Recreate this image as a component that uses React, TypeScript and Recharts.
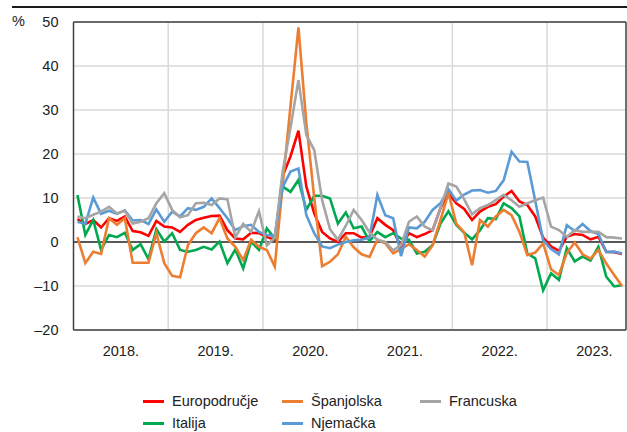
import { LineChart, Line, XAxis, YAxis, CartesianGrid, ReferenceLine } from 'recharts';

// monthly values, Jan 2018 – Oct 2023, % year-on-year
const europodrucje = [
  5.2, 4.1, 5.0, 3.3, 5.4, 4.8, 5.8, 2.5, 2.2, 1.4, 4.8, 3.5,
  3.3, 2.3, 3.9, 5.0, 5.5, 5.9, 6.0, 2.7, 0.8, 0.6, 2.1, 2.0,
  1.1, 0.5, 15.0, 19.5, 25.3, 12.6, 6.5, 2.3, 0.8, 0.0, 2.0, 2.0,
  1.0, 1.2, 5.4, 3.9, 2.7, -1.1, 2.0, 1.1, 1.8, 2.7, 7.7, 11.1,
  8.8, 7.5, 5.0, 6.9, 8.0, 8.6, 10.3, 11.6, 9.2, 8.4, 5.8, 1.0,
  -1.0, -2.0, 1.2, 1.8, 1.6, 0.6, 1.2, -2.2, -2.3, -2.7,
];
const spanjolska = [
  1.1, -4.8, -2.2, -2.7, 5.4, 3.9, 5.4, -4.7, -4.7, -4.7, 2.0, -4.8,
  -7.7, -8.0, -0.7, 2.0, 3.3, 2.0, 5.4, 0.8, -1.1, -4.1, 0.5, -1.1,
  -1.8, -5.6, 13.0, 31.0, 48.8, 27.0, 10.0, -5.5, -4.5, -2.8, 1.2, -1.2,
  -2.8, -3.4, 0.5, -0.3, -2.6, -1.6, -0.5, -1.8, -3.3, -0.7, 5.0, 11.1,
  4.2, 2.2, -5.3, 5.0, 3.5, 5.8, 7.3, 6.1, 2.3, -3.0, -2.4, -0.3,
  -6.2, -7.5, -2.5, -0.1, -2.8, -3.8, -1.8, -4.9, -7.5, -10.0,
];
const francuska = [
  5.8, 5.4, 6.2, 6.9, 8.0, 6.5, 7.1, 4.2, 4.6, 5.4, 8.8, 11.1,
  7.3, 5.6, 6.1, 8.8, 8.9, 8.4, 9.9, 9.7, 1.1, 4.1, 2.3, 7.0,
  -0.8, 1.0, 16.0, 26.0, 36.8, 24.3, 20.9, 9.5, 2.9, 0.5, 3.7, 7.3,
  5.0, 2.2, 0.5, 0.0, -1.9, -0.7, 4.6, 5.8, 3.5, 2.7, 7.7, 13.3,
  12.6, 9.7, 6.3, 7.7, 8.4, 9.5, 10.7, 9.5, 8.0, 8.8, 9.5, 10.1,
  3.5, 2.7, 1.2, 2.7, 2.3, 2.3, 2.3, 1.1, 1.0, 0.8,
];
const italija = [
  10.7, 1.6, 5.0, -1.8, 1.6, 1.1, 2.1, -1.8, -0.5, -3.9, 2.9, 0.1,
  2.0, -1.8, -2.2, -1.8, -1.1, -1.7, 0.1, -4.8, -1.7, -6.0, 0.1, -1.8,
  3.1, 0.8, 12.6, 11.4, 14.1, 7.3, 10.5, 10.5, 9.9, 4.2, 6.7, 3.1,
  3.5, 0.2, 2.3, 1.1, 2.0, 0.8, 0.5, -2.6, -2.2, -0.7, 4.2, 7.0,
  3.9, 2.1, 0.6, 2.7, 5.4, 5.2, 8.8, 7.7, 5.8, -2.6, -3.7, -11.0,
  -7.1, -8.6, -1.4, -4.4, -3.3, -4.2, -1.1, -7.9, -10.1, -9.8,
];
const njemacka = [
  4.6, 4.1, 10.1, 6.4, 7.1, 6.4, 7.2, 4.9, 5.0, 4.1, 7.4, 4.6,
  6.9, 5.8, 7.7, 7.3, 8.0, 9.9, 7.7, 5.4, 2.7, 3.6, 3.9, 2.3,
  1.6, 1.4, 12.5, 16.0, 16.7, 6.1, 2.0, -1.0, -1.4, -0.6, 0.0, 0.4,
  0.5, 1.0, 10.7, 6.1, 5.4, -3.2, 3.3, 3.1, 4.6, 7.3, 8.8, 12.0,
  9.4, 10.8, 11.7, 11.8, 11.2, 11.6, 14.0, 20.5, 18.3, 18.2, 9.4, 0.4,
  -1.6, -2.8, 3.8, 2.5, 4.1, 2.5, 1.8, -2.3, -2.2, -2.6,
];

const years = ['2018.', '2019.', '2020.', '2021.', '2022.', '2023.'];
const yTicks = [-20, -10, 0, 10, 20, 30, 40, 50];

const series = [
  { key: 'europodrucje', name: 'Europodručje', color: '#ff0000', values: europodrucje },
  { key: 'italija', name: 'Italija', color: '#00a84f', values: italija },
  { key: 'spanjolska', name: 'Španjolska', color: '#ed7d31', values: spanjolska },
  { key: 'njemacka', name: 'Njemačka', color: '#5b9bd5', values: njemacka },
  { key: 'francuska', name: 'Francuska', color: '#a5a5a5', values: francuska },
];

const monthCount = europodrucje.length;
const data = europodrucje.map((_, i) => {
  const row: Record<string, number> = { x: i + 0.5 };
  series.forEach(s => { row[s.key] = s.values[i]; });
  return row;
});

const yearTicks = years.map((_, i) => i * 12 + 6);
const yearStarts = years.slice(1).map((_, i) => (i + 1) * 12);

const FONT = "'Liberation Sans', Arial, sans-serif";
const FS = 14.5;

function fmtY(v: number) {
  return v < 0 ? `\u2013${Math.abs(v)}` : `${v}`;
}

const legendRows = [
  [series[0], series[2], series[4]],
  [series[1], series[3]],
];

function ChartLegend() {
  const cols = [143, 282, 420];
  return (
    <div style={{ position: 'absolute', left: 0, top: 390, width: 627, fontFamily: FONT, fontSize: FS, color: '#222' }}>
      {legendRows.map((row, r) => row.map((s, c) => (
        <div key={s.key} style={{ position: 'absolute', left: cols[c], top: r * 22, display: 'flex', alignItems: 'center', height: 22 }}>
          <span style={{ display: 'inline-block', width: 21, height: 3, background: s.color, marginRight: 8 }} />
          <span>{s.name}</span>
        </div>
      )))}
    </div>
  );
}

export default function App() {
  return (
    <div style={{ position: 'fixed', left: 0, top: 0, width: 627, height: 432, background: '#fff', overflow: 'hidden' }}>
      <div style={{ position: 'absolute', left: 12, top: 6, width: 615, height: 2, background: '#1a1a1a' }} />
      <div style={{ position: 'absolute', left: 12, top: 13, fontFamily: FONT, fontSize: FS, color: '#222' }}>%</div>
      <LineChart width={627} height={432} data={data} margin={{ top: 22, right: 1, left: 13.5, bottom: 72 }}>
        <CartesianGrid vertical={false} stroke="#d9d9d9" strokeWidth={1.5} />
        {yearStarts.map(x => (
          <ReferenceLine key={x} x={x} stroke="#d9d9d9" strokeWidth={1.5} />
        ))}
        <XAxis
          type="number"
          dataKey="x"
          domain={[0, monthCount]}
          ticks={yearTicks}
          tickFormatter={(v: number) => years[(v - 6) / 12]}
          tickLine={false}
          tickSize={0}
          tickMargin={16}
          axisLine={{ stroke: '#404040', strokeWidth: 1.5 }}
          tick={{ fill: '#222', fontSize: FS, fontFamily: FONT }}
          height={30}
        />
        <YAxis
          domain={[-20, 50]}
          ticks={yTicks}
          tickFormatter={fmtY}
          tickLine={false}
          tickSize={0}
          tickMargin={15}
          width={60}
          axisLine={{ stroke: '#404040', strokeWidth: 1.5 }}
          tick={{ fill: '#222', fontSize: FS, fontFamily: FONT }}
          interval={0}
        />
        <ReferenceLine y={50} stroke="#404040" strokeWidth={1.5} />
        <ReferenceLine x={monthCount} stroke="#404040" strokeWidth={1.5} />
        <ReferenceLine y={0} stroke="#595959" strokeWidth={2} />
        {series.map(s => (
          <Line
            key={s.key}
            type="linear"
            dataKey={s.key}
            name={s.name}
            stroke={s.color}
            strokeWidth={2.6}
            dot={false}
            isAnimationActive={false}
          />
        ))}
      </LineChart>
      <ChartLegend />
    </div>
  );
}
